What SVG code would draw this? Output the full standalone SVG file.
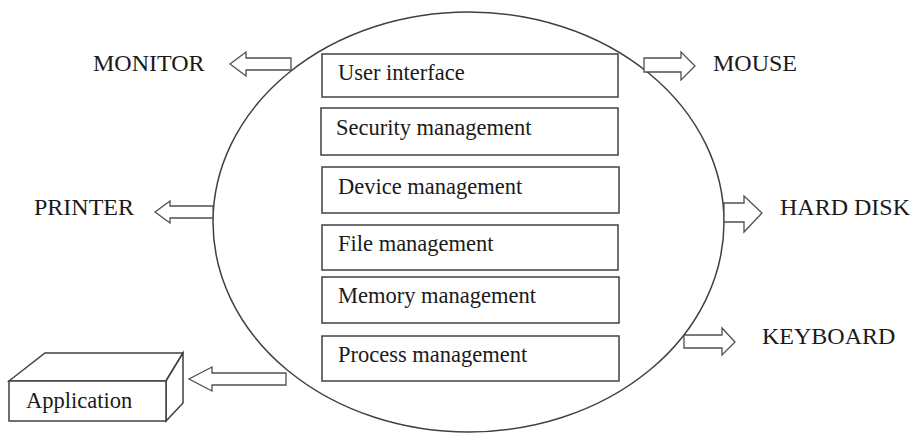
<svg xmlns="http://www.w3.org/2000/svg" width="914" height="433" viewBox="0 0 914 433">
<style>
.lbl{font-family:"Liberation Serif","Times New Roman",serif;font-size:24px;fill:#1a1a1a}
.txt{font-family:"Liberation Serif","Times New Roman",serif;font-size:22.5px;fill:#1a1a1a}
.box{fill:#fff;stroke:#404040;stroke-width:1.5}
.arr{fill:#fff;stroke:#505050;stroke-width:1.3;stroke-linejoin:miter}
.ell{fill:none;stroke:#404040;stroke-width:1.5}
</style>
<rect width="914" height="433" fill="#fff"/>
<g id="os">
<ellipse class="ell" cx="468.5" cy="222" rx="255.5" ry="210"/>
</g>
<g id="user-interface"><rect class="box" x="322" y="54" width="296" height="43"/><text class="txt" x="338" y="80">User interface</text></g>
<g id="security-management"><rect class="box" x="321" y="108" width="297" height="47"/><text class="txt" x="336" y="135">Security management</text></g>
<g id="device-management"><rect class="box" x="322" y="167" width="297" height="46"/><text class="txt" x="338" y="194">Device management</text></g>
<g id="file-management"><rect class="box" x="322" y="225" width="296" height="45"/><text class="txt" x="338" y="251">File management</text></g>
<g id="memory-management"><rect class="box" x="322" y="277" width="297" height="46"/><text class="txt" x="338" y="303">Memory management</text></g>
<g id="process-management"><rect class="box" x="322" y="336" width="297" height="45"/><text class="txt" x="338" y="362">Process management</text></g>
<g id="monitor"><text class="lbl" x="93" y="71">MONITOR</text></g>
<g id="mouse"><text class="lbl" x="713" y="71">MOUSE</text></g>
<g id="printer"><text class="lbl" x="34" y="215">PRINTER</text></g>
<g id="hard-disk"><text class="lbl" x="780" y="215">HARD DISK</text></g>
<g id="keyboard"><text class="lbl" x="762" y="344">KEYBOARD</text></g>
<g id="application">
<polygon class="box" points="9,381 45,353 183,353 166,381"/>
<polygon class="box" points="166,381 183,353 183,403 166,421"/>
<rect class="box" x="9" y="381" width="157" height="40"/>
<text class="txt" x="26" y="408">Application</text>
</g>
<g id="connectors">
<polygon class="arr" points="291,58 246,58 246,52 230,64 246,76 246,70 291,70"/>
<polygon class="arr" points="644,58 681,58 681,52 695,66 681,80 681,72 644,72"/>
<polygon class="arr" points="213,206 170,206 170,201 155,212 170,223 170,218 213,218"/>
<polygon class="arr" points="724,203 744,203 744,196 762,213 744,232 744,222 724,222"/>
<polygon class="arr" points="684,335 722,335 722,328 735,342 722,355 722,348 684,348"/>
<polygon class="arr" points="286,373 212,373 212,367 189,379 212,391 212,385 286,385"/>
</g>
</svg>
